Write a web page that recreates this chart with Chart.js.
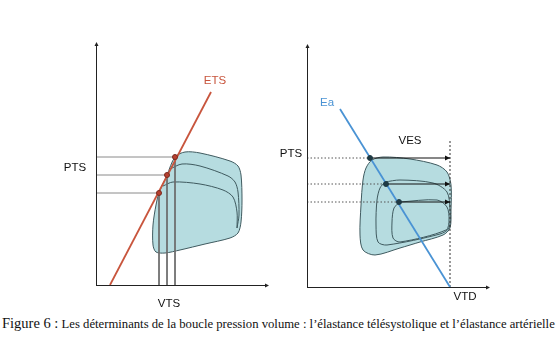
<!DOCTYPE html>
<html>
<head>
<meta charset="utf-8">
<script src="https://cdn.jsdelivr.net/npm/chart.js@4"></script>
<style>
  body { margin: 0; background: #fff; width: 560px; height: 357px; position: relative; overflow: hidden; }
  #left { position: absolute; left: 0; top: 0; }
  #right { position: absolute; left: 270px; top: 0; }
  #caption { position: absolute; left: 2px; top: 315px; white-space: nowrap; font-family: "Liberation Serif", serif; color: #111; font-size: 12.7px; }
  #caption .big { font-size: 14.5px; }
</style>
</head>
<body>
<canvas id="left" width="280" height="310"></canvas>
<canvas id="right" width="290" height="310"></canvas>
<div id="caption"><span class="big">Figure 6 :</span> Les déterminants de la boucle pression volume : l’élastance télésystolique et l’élastance artérielle</div>
<script>
// ----- left panel : ETS -----
let etsLine = [{x: 14, y: 0}, {x: 115, y: 193}];
let etsPoints = [{x: 63, y: 92}, {x: 71, y: 110}, {x: 79, y: 128}];
let leftOuter = [
  {x: 109, y: 41}, {x: 84, y: 35}, {x: 69, y: 32}, {x: 60, y: 33}, {x: 57, y: 40}, {x: 57, y: 60},
  {x: 60, y: 80}, {x: 63, y: 92}, {x: 71, y: 110}, {x: 79, y: 128}, {x: 89, y: 133}, {x: 104, y: 132},
  {x: 134, y: 124}, {x: 142, y: 119}, {x: 145, y: 110}, {x: 146, y: 85}, {x: 145, y: 63}, {x: 142, y: 52},
  {x: 134, y: 47}, {x: 109, y: 41}
];
let leftMiddle = [
  {x: 74, y: 116}, {x: 86, y: 121}, {x: 104, y: 119}, {x: 132, y: 109}, {x: 139, y: 103},
  {x: 142, y: 93}, {x: 143, y: 70}, {x: 141, y: 57}
];
let leftInner = [
  {x: 67, y: 99}, {x: 77, y: 103}, {x: 104, y: 101}, {x: 127, y: 95}, {x: 137, y: 88},
  {x: 141, y: 73}, {x: 141, y: 57}
];

// ----- right panel : Ea -----
let eaLine = [{x: 33, y: 178}, {x: 143, y: 0}];
let eaPoints = [{x: 63, y: 129}, {x: 79, y: 103}, {x: 92, y: 85}];
let vtd = 143;
let rightOuter = [
  {x: 113, y: 45}, {x: 93, y: 39}, {x: 68, y: 32}, {x: 56, y: 37}, {x: 53, y: 52}, {x: 54, y: 82},
  {x: 56, y: 107}, {x: 59, y: 119}, {x: 65, y: 127}, {x: 76, y: 130}, {x: 103, y: 128}, {x: 130, y: 122},
  {x: 140, y: 115}, {x: 144, y: 102}, {x: 144, y: 77}, {x: 143, y: 59}, {x: 136, y: 52}, {x: 113, y: 45}
];
let rightMiddle = [
  {x: 78, y: 105}, {x: 93, y: 107}, {x: 126, y: 104}, {x: 140, y: 95}, {x: 143, y: 77}, {x: 142, y: 59},
  {x: 133, y: 53}, {x: 80, y: 42}, {x: 71, y: 45}, {x: 69, y: 62}, {x: 70, y: 87}, {x: 73, y: 99}, {x: 78, y: 105}
];
let rightInner = [
  {x: 93, y: 85}, {x: 130, y: 87}, {x: 140, y: 80}, {x: 142, y: 67}, {x: 139, y: 57}, {x: 93, y: 45},
  {x: 86, y: 49}, {x: 85, y: 65}, {x: 87, y: 79}, {x: 93, y: 85}
];

const loopFill = '#b6dce0';
const loopEdge = '#3f5a5f';
const etsColor = '#c8553d';
const eaColor = '#4a93d4';

function line(data, color, width, extra) {
  return Object.assign({
    type: 'scatter', data: data, showLine: true, borderColor: color, borderWidth: width,
    pointRadius: 0, fill: false, tension: 0
  }, extra || {});
}

// axes with small arrowheads + text labels
function panelPlugin(labels) {
  return {
    id: 'panel',
    afterDraw(chart) {
      const c = chart.ctx, a = chart.chartArea;
      c.save();
      c.strokeStyle = '#222';
      c.fillStyle = '#222';
      c.lineWidth = 1;
      c.beginPath();
      c.moveTo(a.left + 0.5, a.bottom);
      c.lineTo(a.left + 0.5, a.top);
      c.moveTo(a.left, a.bottom + 0.5);
      c.lineTo(a.right, a.bottom + 0.5);
      c.stroke();
      c.beginPath();
      c.moveTo(a.left + 0.5, a.top - 3); c.lineTo(a.left - 1.5, a.top + 1); c.lineTo(a.left + 2.5, a.top + 1);
      c.moveTo(a.right + 3, a.bottom + 0.5); c.lineTo(a.right - 1, a.bottom - 1.5); c.lineTo(a.right - 1, a.bottom + 2.5);
      c.fill();
      const xs = chart.scales.x, ys = chart.scales.y;
      c.font = '11.5px "Liberation Sans", Arial, sans-serif';
      c.textAlign = 'center';
      c.textBaseline = 'middle';
      labels.forEach(l => {
        c.fillStyle = l.color || '#111';
        c.fillText(l.text, xs.getPixelForValue(l.x), ys.getPixelForValue(l.y));
      });
      c.restore();
    }
  };
}

// arrowheads at the end of the VES arrows
const arrowPlugin = {
  id: 'arrows',
  afterDatasetsDraw(chart) {
    const c = chart.ctx;
    c.save();
    c.fillStyle = '#111';
    chart.data.datasets.forEach((ds, i) => {
      if (!ds.arrow) return;
      const pts = chart.getDatasetMeta(i).data;
      const p = pts[pts.length - 1];
      c.beginPath();
      c.moveTo(p.x, p.y);
      c.lineTo(p.x - 5, p.y - 2.5);
      c.lineTo(p.x - 5, p.y + 2.5);
      c.fill();
    });
    c.restore();
  }
};

function baseOptions(xmax, pad) {
  return {
    responsive: false,
    animation: false,
    layout: { padding: pad },
    plugins: { legend: { display: false }, tooltip: { enabled: false } },
    scales: {
      x: { type: 'linear', min: 0, max: xmax, display: false },
      y: { type: 'linear', min: 0, max: 240, display: false }
    }
  };
}

// ----- left chart -----
let leftSets = [];
leftSets.push(line(leftOuter, loopEdge, 1, { fill: 'shape', backgroundColor: loopFill, tension: 0.3, order: 10 }));
leftSets.push(line(leftMiddle, loopEdge, 1, { tension: 0.3, order: 9 }));
leftSets.push(line(leftInner, loopEdge, 1, { tension: 0.3, order: 9 }));
etsPoints.forEach(p => {
  leftSets.push(line([{x: 0, y: p.y}, p], '#8a8a8a', 1, { order: 8 }));
  leftSets.push(line([p, {x: p.x, y: 0}], '#6d6d6d', 1, { order: 8 }));
});
leftSets.push(line(etsLine, etsColor, 1.8, { order: 2 }));
leftSets.push({
  type: 'scatter', data: etsPoints, pointRadius: 2.5, pointBackgroundColor: '#b8402f',
  pointBorderColor: '#7a2a20', pointBorderWidth: 1, order: 1
});

new Chart(document.getElementById('left'), {
  type: 'scatter',
  data: { datasets: leftSets },
  options: baseOptions(170, { left: 96, top: 45, right: 14, bottom: 25 }),
  plugins: [panelPlugin([
    { text: 'PTS', x: -21, y: 117 },
    { text: 'VTS', x: 73, y: -19 },
    { text: 'ETS', x: 119, y: 204, color: etsColor }
  ])]
});

// ----- right chart -----
let rightSets = [];
rightSets.push(line(rightOuter, loopEdge, 1, { fill: 'shape', backgroundColor: loopFill, tension: 0.3, order: 10 }));
rightSets.push(line(rightMiddle, loopEdge, 1, { tension: 0.3, order: 9 }));
rightSets.push(line(rightInner, loopEdge, 1, { tension: 0.3, order: 9 }));
rightSets.push(line([{x: vtd, y: 0}, {x: vtd, y: 147}], '#333', 1, { borderDash: [2, 2], order: 8 }));
eaPoints.forEach(p => {
  rightSets.push(line([{x: 0, y: p.y}, p], '#555', 1, { borderDash: [1.5, 2], order: 8 }));
  rightSets.push(line([p, {x: vtd, y: p.y}], '#111', 1.2, { order: 3, arrow: true }));
});
rightSets.push(line(eaLine, eaColor, 1.8, { order: 2 }));
rightSets.push({
  type: 'scatter', data: eaPoints, pointRadius: 2.5, pointBackgroundColor: '#1f3a44',
  pointBorderColor: '#1f3a44', order: 1
});

new Chart(document.getElementById('right'), {
  type: 'scatter',
  data: { datasets: rightSets },
  options: baseOptions(180, { left: 37, top: 47, right: 73, bottom: 23 }),
  plugins: [panelPlugin([
    { text: 'PTS', x: -16, y: 133 },
    { text: 'VES', x: 103, y: 146 },
    { text: 'VTD', x: 158, y: -10 },
    { text: 'Ea', x: 20, y: 184, color: eaColor }
  ]), arrowPlugin]
});
</script>
</body>
</html>
